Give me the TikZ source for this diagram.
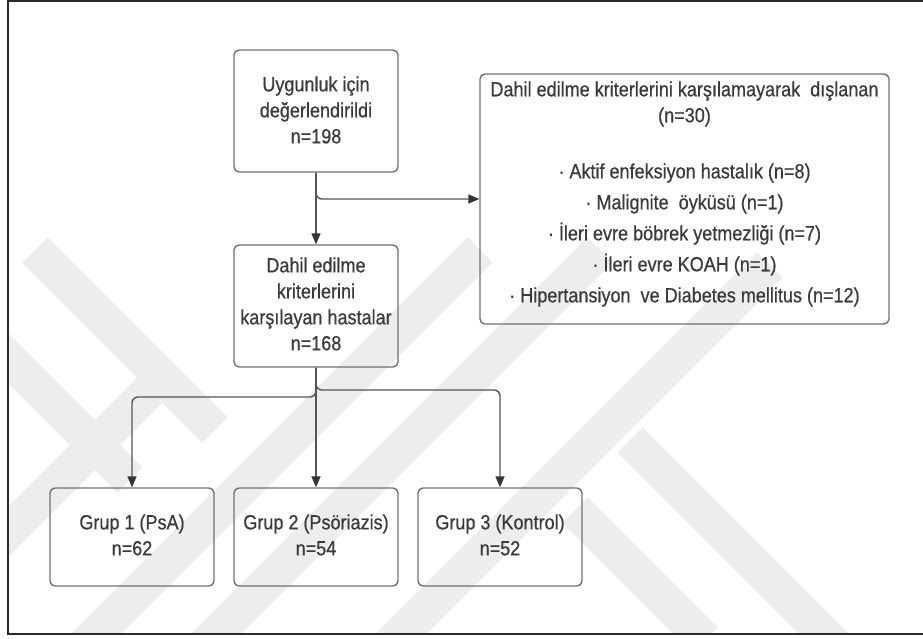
\documentclass[tikz,border=0pt]{standalone}
\usepackage{fontspec}
\setmainfont{Liberation Sans}[FakeStretch=0.88, FakeBold=0.6, UprightFeatures={FakeBold=0.6}]
\usetikzlibrary{arrows.meta}
\definecolor{wm}{HTML}{EDEDED}
\definecolor{boxc}{HTML}{707070}
\definecolor{linec}{HTML}{555555}
\definecolor{headc}{HTML}{333333}
\definecolor{txtc}{HTML}{3A3A3A}
\definecolor{framec}{HTML}{2A2A2A}
\tikzset{
  box/.style={draw=boxc, line width=1.4pt, rounded corners=5pt, minimum width=164pt, inner sep=0pt},
  txt/.style={text=txtc, align=center, font=\fontsize{20.5}{26}\selectfont, inner sep=0pt},
  conn/.style={draw=linec, line width=1.4pt, rounded corners=6pt},
  arr/.style={conn, -{Triangle[length=11pt,width=9pt,fill=headc,color=headc]}},
  wmband/.style={draw=wm, line width=36pt, line cap=butt, line join=miter}
}
\begin{document}
\begin{tikzpicture}[x=1pt,y=-1pt]
\useasboundingbox (0,0) rectangle (923,639);
% watermark
\begin{scope}
\clip (8,1) rectangle (923,634);
\draw[wmband] (-20,560) -- (170,370);
\draw[wmband] (60,670) -- (480,250);
\draw[wmband] (200,650) -- (600,250);
\draw[wmband] (390,645) -- (770,265);
\draw[wmband] (35,250) -- (215,430);
\draw[wmband] (-10,340) -- (130,480);
\draw[wmband] (630,440) -- (840,650);
\draw[wmband] (575,510) -- (705,640);
\end{scope}
% frame
\draw[framec, line width=1.6pt] (923,1) -- (8,1) -- (8,634) -- (923,634);
% boxes
\node[box, minimum height=122pt] (b1) at (316,111) {};
\node[txt] (b1t) at (316,110) {Uygunluk için\\değerlendirildi\\n=198};
\node[box, minimum height=122pt] (b2) at (316,306) {};
\node[txt] (b2t) at (316,304) {Dahil edilme\\kriterlerini\\karşılayan hastalar\\n=168};
\node[box, minimum width=409pt, minimum height=250pt] (ex) at (684.5,199) {};
\node[txt] (ext) at (684.5,194) {Dahil edilme kriterlerini karşılamayarak\ \ dışlanan\\(n=30)\\[30pt]
· Aktif enfeksiyon hastalık (n=8)\\[5pt]
· Malignite\ \ öyküsü (n=1)\\[5pt]
· İleri evre böbrek yetmezliği (n=7)\\[5pt]
· İleri evre KOAH (n=1)\\[5pt]
· Hipertansiyon\ \ ve Diabetes mellitus (n=12)};
\node[box, minimum height=98pt] (g1) at (132,537) {};
\node[txt] (g1t) at (132,535) {Grup 1 (PsA)\\n=62};
\node[box, minimum height=98pt] (g2) at (316,537) {};
\node[txt] (g2t) at (316,535) {Grup 2 (Psöriazis)\\n=54};
\node[box, minimum height=98pt] (g3) at (500,537) {};
\node[txt] (g3t) at (500,535) {Grup 3 (Kontrol)\\n=52};
% connectors
\coordinate (j1) at (132,397);
\coordinate (j3) at (500,390);
\draw[arr] (b1.south) -- (b2.north);
\draw[arr] (b1.south) |- (ex.west);
\draw[arr] (b2.south) -- (g2.north);
\draw[arr] (b2.south) |- (j1) -- (g1.north);
\draw[arr] (b2.south) |- (j3) -- (g3.north);
\end{tikzpicture}
\end{document}
